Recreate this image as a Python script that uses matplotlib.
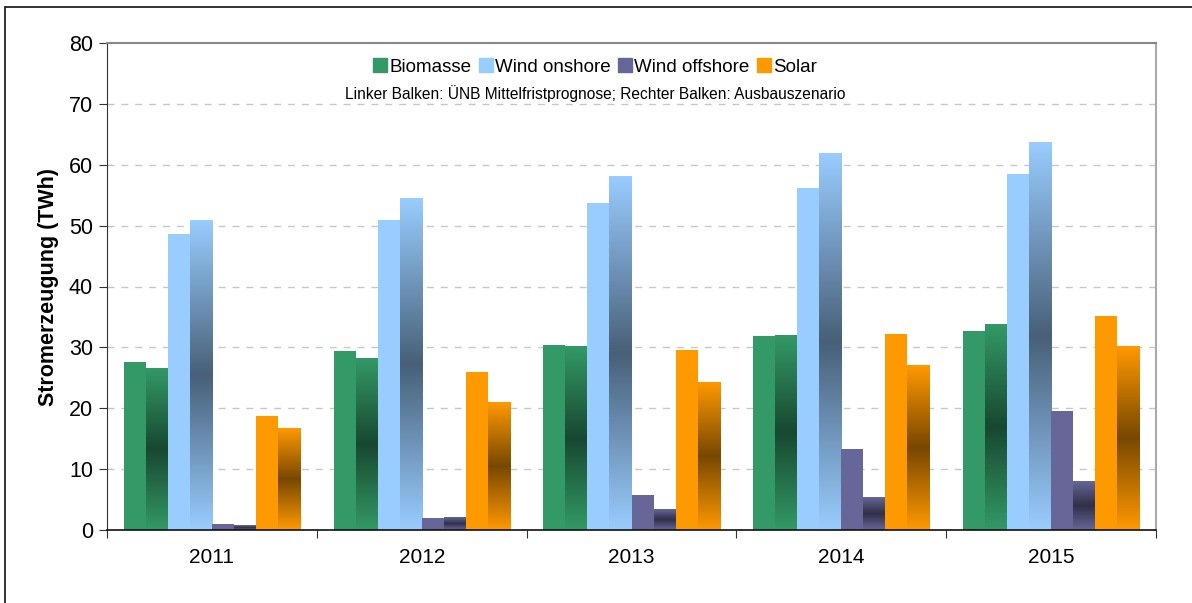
import numpy as np
import matplotlib
matplotlib.use("Agg")
import matplotlib.pyplot as plt
from matplotlib.lines import Line2D
from matplotlib.colors import to_rgb

plt.rcParams['font.family'] = ['Liberation Sans', 'DejaVu Sans']

# Data (TWh): left bar = ÜNB Mittelfristprognose, right bar = Ausbauszenario
years = ['2011', '2012', '2013', '2014', '2015']
series = ['Biomasse', 'Wind onshore', 'Wind offshore', 'Solar']
colors = ['#339966', '#99ccff', '#666699', '#ff9900']

biomasse_uenb = [27.6, 29.4, 30.4, 31.9, 32.7]
biomasse_ausbau = [26.6, 28.2, 30.2, 31.9, 33.8]
onshore_uenb = [48.6, 51.0, 53.7, 56.2, 58.5]
onshore_ausbau = [50.9, 54.5, 58.0, 61.8, 63.7]
offshore_uenb = [1.0, 2.0, 5.7, 13.3, 19.5]
offshore_ausbau = [0.8, 2.0, 3.3, 5.3, 8.0]
solar_uenb = [18.7, 25.9, 29.6, 32.2, 35.1]
solar_ausbau = [16.7, 21.0, 24.3, 27.1, 30.2]

left_vals = [biomasse_uenb, onshore_uenb, offshore_uenb, solar_uenb]
right_vals = [biomasse_ausbau, onshore_ausbau, offshore_ausbau, solar_ausbau]

fig = plt.figure(figsize=(11.92, 6.03), dpi=100)
ax = fig.add_axes([107 / 1192, 1 - 530 / 603, (1156 - 107) / 1192, (530 - 43) / 603])

# outer frame (only left/top edges visible, cropped elsewhere)
fig.add_artist(plt.Rectangle((5 / 1192, -0.1), 1.2, 1 - 7 / 603 + 0.1,
                             transform=fig.transFigure, fill=False,
                             edgecolor='#222222', linewidth=1.3))


def gradient_bar(ax, x0, w, h, base):
    # light at top and bottom, dark in the middle
    rgb = np.array(to_rgb(base))
    dark = rgb * 0.47
    t = np.abs(np.linspace(-1, 1, 200))[:, None]
    img = dark + (rgb - dark) * t
    ax.imshow(img[:, None, :], extent=[x0, x0 + w, 0, h], aspect='auto',
              origin='lower', interpolation='bilinear', zorder=2)


w = 0.105
off = (1 - 8 * w) / 2
for i in range(len(years)):
    for s in range(len(series)):
        xl = i + off + (2 * s) * w
        ax.bar(xl, left_vals[s][i], width=w, align='edge', color=colors[s],
               linewidth=0, zorder=2)
        gradient_bar(ax, xl + w, w, right_vals[s][i], colors[s])

ax.set_xlim(0, 5)
ax.set_ylim(0, 80)
ax.set_yticks(range(0, 90, 10))
ax.set_xticks(range(0, 6))
ax.set_xticklabels([])
ax.set_xticks(np.arange(5) + 0.5, minor=True)
ax.set_xticklabels(years, minor=True)
ax.tick_params(axis='x', which='minor', length=0, pad=13, labelsize=15)
ax.tick_params(axis='x', which='major', length=6, direction='out', color='#333333')
ax.tick_params(axis='y', length=6, direction='out', labelsize=15.5, pad=4, color='#333333')

for y in range(10, 80, 10):
    ax.axhline(y, color='#c8c8c8', linewidth=1, dashes=(5, 5), zorder=1)

ax.spines['top'].set_color('#888888')
ax.spines['top'].set_linewidth(1.5)
ax.spines['right'].set_color('#aaaaaa')
ax.spines['right'].set_linewidth(1.5)
ax.spines['left'].set_color('#333333')
ax.spines['bottom'].set_color('#111111')
ax.spines['bottom'].set_linewidth(1.2)

ax.set_ylabel('Stromerzeugung (TWh)', fontsize=15.5, fontweight='bold', labelpad=7)

handles = [Line2D([], [], marker='s', linestyle='', markersize=10.5, color=c) for c in colors]
fig.legend(handles, series, loc='center', bbox_to_anchor=(595 / 1192, 1 - 67 / 603),
           ncol=4, frameon=False, fontsize=13.5, handlelength=0.75, handletextpad=0.12,
           columnspacing=0.4, borderpad=0)
fig.text(595 / 1192, 1 - 94 / 603,
         'Linker Balken: ÜNB Mittelfristprognose; Rechter Balken: Ausbauszenario',
         ha='center', va='center', fontsize=11.2)

fig.savefig('out.png', dpi=100)
